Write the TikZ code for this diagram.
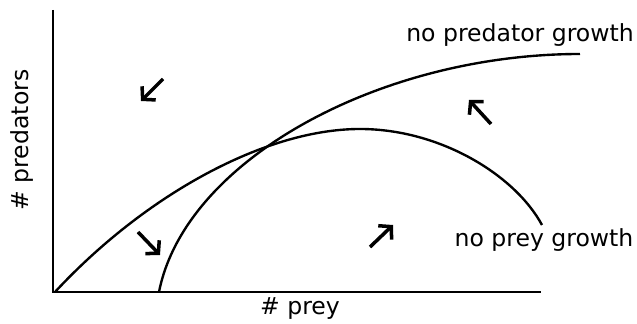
\documentclass[tikz,border=0pt]{standalone}
\usepackage{fontspec}
\setmainfont{DejaVu Sans}
\usetikzlibrary{arrows.meta}

\begin{document}
\begin{tikzpicture}[x=0.02cm, y=-0.02cm,
    every node/.style={font=\fontsize{13.4}{15}\selectfont},
    nullcline/.style={line width=1.35pt},
    flow/.style={line width=2pt, -{Straight Barb[length=5pt, width=11pt]}}]
    \useasboundingbox (0,0) rectangle (637,324);

    % axes
    \coordinate (origin) at (53,292);
    \coordinate (ytop) at (53,10);
    \coordinate (xend) at (541,292);
    \draw[nullcline] (ytop) -- (origin) -- (xend);
    \node (xlabel) at (300,309) {\# prey};
    \node[rotate=90] (ylabel) at (22,140) {\# predators};

    % nullclines
    \coordinate (preystart) at (55,292);
    \coordinate (preypeak) at (360,129);
    \coordinate (preyend) at (542,225);
    \coordinate (predstart) at (159,292);
    \coordinate (predend) at (580,54);
    \draw[nullcline] (preystart) .. controls (145,195) and (265,129) .. (preypeak)
                                 .. controls (440,129) and (515,175) .. (preyend);
    \draw[nullcline] (predstart) .. controls (185,160) and (380,54) .. (predend);
    \node (predgrowth) at (520,35) {no predator growth};
    \node (preygrowth) at (544,240) {no prey growth};

    % flow directions
    \coordinate (swtail) at (163,79);
    \coordinate (swhead) at (141,101);
    \coordinate (nwtail) at (491,124);
    \coordinate (nwhead) at (469,100);
    \coordinate (setail) at (138,232);
    \coordinate (sehead) at (160,255);
    \coordinate (netail) at (370,247);
    \coordinate (nehead) at (393,225);
    \draw[flow] (swtail) -- (swhead);
    \draw[flow] (nwtail) -- (nwhead);
    \draw[flow] (setail) -- (sehead);
    \draw[flow] (netail) -- (nehead);
\end{tikzpicture}
\end{document}
